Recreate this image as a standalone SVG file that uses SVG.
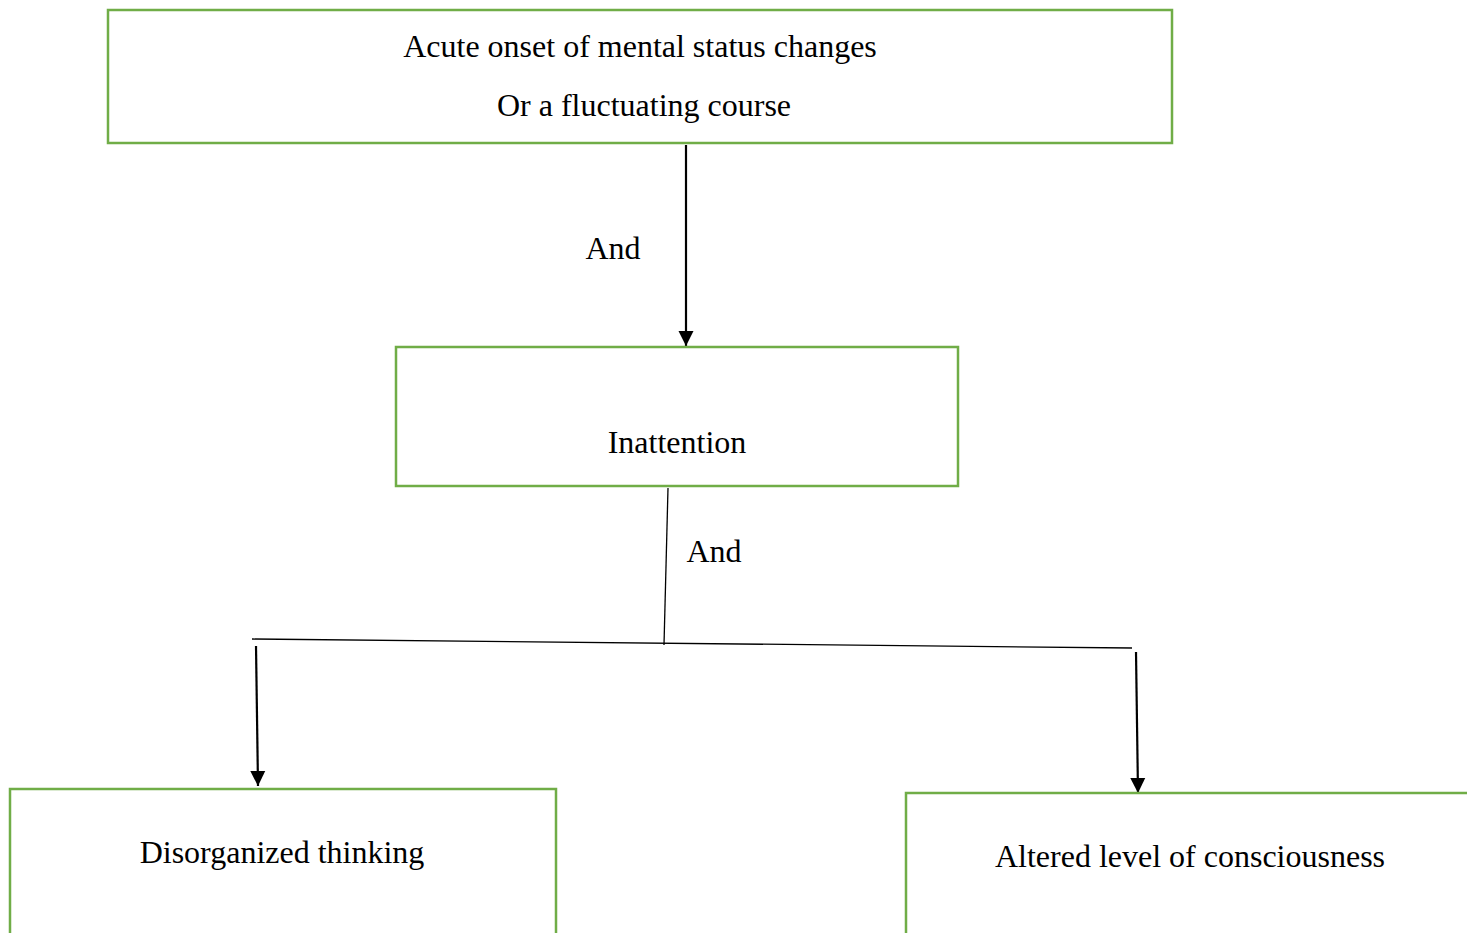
<svg xmlns="http://www.w3.org/2000/svg" width="1467" height="933" viewBox="0 0 1467 933">
<defs>
<style>
.box{fill:#fff;stroke:#70AD47;stroke-width:2.5}
.t{font-family:"Liberation Serif","Times New Roman",serif;font-size:32px;fill:#000;text-anchor:middle}
.thick{stroke:#000;stroke-width:2.2;fill:none}
.thin{stroke:#000;stroke-width:1.3;fill:none}
</style>
<marker id="a" markerWidth="16" markerHeight="16" refX="15" refY="8" orient="auto" markerUnits="userSpaceOnUse">
<path d="M0,0.5 L15,8 L0,15.5 Z" fill="#000"/>
</marker>
</defs>
<rect width="1467" height="933" fill="#fff"/>
<g id="connectors">
<line class="thick" x1="686" y1="145" x2="686" y2="346" marker-end="url(#a)"/>
<line class="thin" x1="668" y1="488" x2="664" y2="645"/>
<line class="thin" x1="252" y1="639" x2="1132" y2="648"/>
<line class="thick" x1="256" y1="646" x2="258" y2="786" marker-end="url(#a)"/>
<line class="thick" x1="1136" y1="652" x2="1138" y2="793" marker-end="url(#a)"/>
<text class="t" x="613" y="259">And</text>
<text class="t" x="714" y="562">And</text>
</g>
<g id="n1">
<rect class="box" x="108" y="10" width="1064" height="133"/>
<text class="t" x="640" y="57">Acute onset of mental status changes</text>
<text class="t" x="644" y="116">Or a fluctuating course</text>
</g>
<g id="n2">
<rect class="box" x="396" y="347" width="562" height="139"/>
<text class="t" x="677" y="453">Inattention</text>
</g>
<g id="n3">
<rect class="box" x="10" y="789" width="546" height="160"/>
<text class="t" x="282" y="863">Disorganized thinking</text>
</g>
<g id="n4">
<rect class="box" x="906" y="793" width="580" height="160"/>
<text class="t" x="1190" y="867">Altered level of consciousness</text>
</g>
</svg>
